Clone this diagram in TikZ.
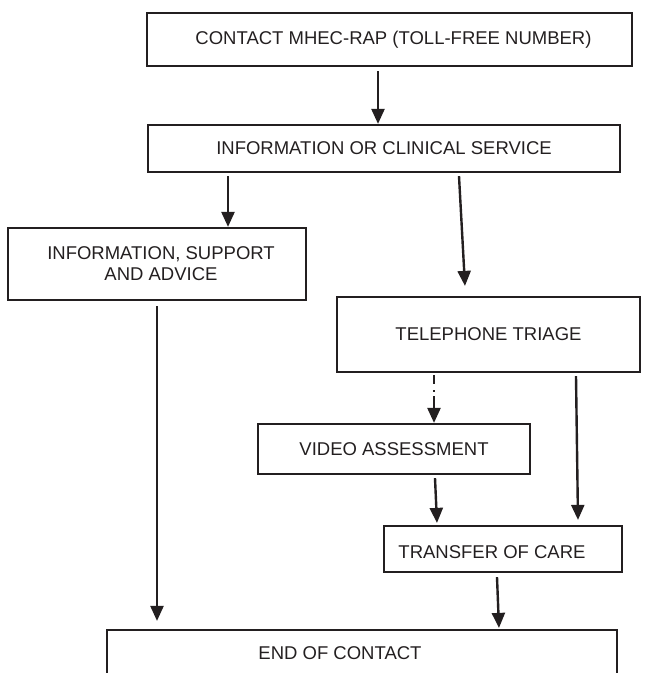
\documentclass[tikz,border=0pt]{standalone}
\usepackage{fontspec}
\setmainfont{Liberation Sans}
\usetikzlibrary{arrows.meta,calc}
\definecolor{ink}{HTML}{231F20}
\begin{document}
\begin{tikzpicture}[x=1pt,y=-1pt,
  box/.style={draw=ink, text=ink, line width=2.2pt, inner sep=0pt, align=center,
              font=\fontsize{18.5}{21}\selectfont},
  arr/.style={draw=ink, line width=2.4pt, -{Triangle[width=13pt,length=15pt]}},
  label text/.style={text=ink, font=\fontsize{18.5}{21}\selectfont, inner sep=0pt}]
\useasboundingbox (0,0) rectangle (652,673);
\clip (0,0) rectangle (652,673);

% boxes
\node[box, minimum width=485pt, minimum height=53pt] (c1) at (389.5,39.5)
  {\hspace*{8pt}CONTACT MHEC-RAP (TOLL-FREE NUMBER)};
\node[box, minimum width=472pt, minimum height=47pt] (c2) at (384,148.5)
  {INFORMATION OR CLINICAL SERVICE};
\node[box, minimum width=298pt, minimum height=72pt] (info) at (157,264)
  {\hspace*{8pt}INFORMATION, SUPPORT\\\hspace*{8pt}AND ADVICE};
\node[box, minimum width=303pt, minimum height=75pt] (tel) at (488.5,334.5)
  {TELEPHONE TRIAGE};
\node[box, minimum width=272pt, minimum height=50pt] (video) at (394,449)
  {VIDEO ASSESSMENT};
\node[box, minimum width=238pt, minimum height=46pt,
      label={[label text, xshift=-11pt, yshift=-3pt]center:TRANSFER OF CARE}] (transfer) at (503,549) {};
\node[box, minimum width=510pt, minimum height=46pt,
      label={[label text, xshift=-22pt]center:END OF CONTACT}] (end) at (362,653) {};

% connectors
\draw[arr] ($(c1.south)+(-11.5,4)$) -- ($(c2.north)+(-6,0)$);
\draw[arr] ($(c2.south)+(-156,3)$) -- ($(info.north)+(71,0)$);
\draw[arr] ($(c2.south)+(75,3)$) -- ($(tel.north)+(-23.5,-10)$);
\draw[arr] ($(info.south)+(0,5)$) -- ($(end.north)+(-205,-8)$);
\draw[arr, dash pattern=on 9pt off 6pt on 2pt off 4pt on 60pt]
  ($(tel.south)+(-54.5,2)$) -- ($(video.north)+(40,0)$);
\draw[arr] ($(tel.south)+(87.5,3)$) -- ($(transfer.north)+(75,-5)$);
\draw[arr] ($(video.south)+(41,3)$) -- ($(transfer.north)+(-66,-2)$);
\draw[arr] ($(transfer.south)+(-6,4)$) -- ($(end.north)+(137,-1)$);
\end{tikzpicture}
\end{document}
